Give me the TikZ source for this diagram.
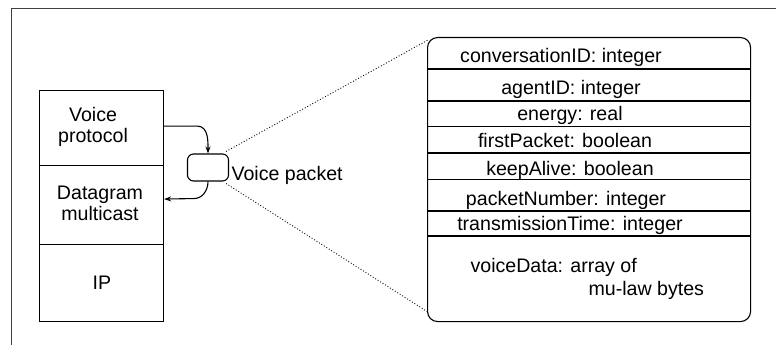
\documentclass[tikz,border=0pt]{standalone}
\usepackage{fontspec}
\setmainfont{Liberation Sans}
\usetikzlibrary{arrows.meta,calc}
\begin{document}
\begin{tikzpicture}[x=1pt,y=-1pt,
  font=\fontsize{19.6}{21}\selectfont,
  line width=1.1pt,
  layer/.style={draw, minimum width=124pt, inner sep=0pt, anchor=north west},
  layertext/.style={align=center, inner sep=0pt},
  field/.style={anchor=base, inner sep=0pt},
  flow/.style={-{Stealth[length=7pt,width=5pt]}, line width=1.1pt},
  zoomline/.style={dotted, line width=0.9pt}]
\useasboundingbox (0,0) rectangle (776,345);

% page frame (top and left rules)
\coordinate (frameTL) at (11,8);
\coordinate (frameTR) at (776,8);
\coordinate (frameBL) at (11,345);
\draw[line width=0.9pt, black!75] (frameTR) -- (frameTL) -- (frameBL);

% protocol stack
\node[layer, minimum height=75pt] (vp) at (39,90) {};
\node[layer, minimum height=79pt] (dm) at (39,165) {};
\node[layer, minimum height=77pt] (ip) at (39,244) {};
\node[layertext] (vpt) at (93,127) {Voice\\protocol};
\node[layertext] (dmt) at (100,203) {Datagram\\multicast};
\node[layertext] (ipt) at (102,283) {IP};

% voice packet
\node[draw, rounded corners=6pt, minimum width=41pt, minimum height=27pt, inner sep=0pt] (pk) at (208,167.5) {};
\node[anchor=base west, inner sep=0pt] (pklabel) at (231,180) {Voice packet};

\draw[flow] ([yshift=2pt]vp.east) -- ++(33,0) to[out=0,in=90] (pk.north);
\draw[flow] (pk.south) to[out=-90,in=0] ++(-14,17) -- ([yshift=6pt]dm.east);

% packet contents
\node[draw, rounded corners=10pt, minimum width=323pt, minimum height=284pt, inner sep=0pt, anchor=north west] (big) at (427,37) {};

\draw[zoomline] ([xshift=-3pt,yshift=2pt]pk.north east) -- ([xshift=1pt,yshift=-3pt]big.north west);
\draw[zoomline] ([xshift=-3pt,yshift=-2pt]pk.south east) -- ([xshift=1pt,yshift=10pt]big.south west);

\foreach \yy in {69,101,126.5,153,179.5,211,236}
  \draw (big.west |- 0,\yy) -- (big.east |- 0,\yy);

\node[field] (f1) at (561,63) {conversationID: integer};
\node[field] (f2) at (571,94) {agentID: integer};
\node[field] (f3) at (570,120) {energy: real};
\node[field] (f4) at (565,147.5) {firstPacket: boolean};
\node[field] (f5) at (570,175.5) {keepAlive: boolean};
\node[field] (f6) at (566,205) {packetNumber: integer};
\node[field] (f7) at (570,230.5) {transmissionTime: integer};
\node[field, anchor=base west] (f8) at (470,272) {voiceData: array of};
\node[field, anchor=base west] (f9) at (588,295) {mu-law bytes};
\end{tikzpicture}
\end{document}
